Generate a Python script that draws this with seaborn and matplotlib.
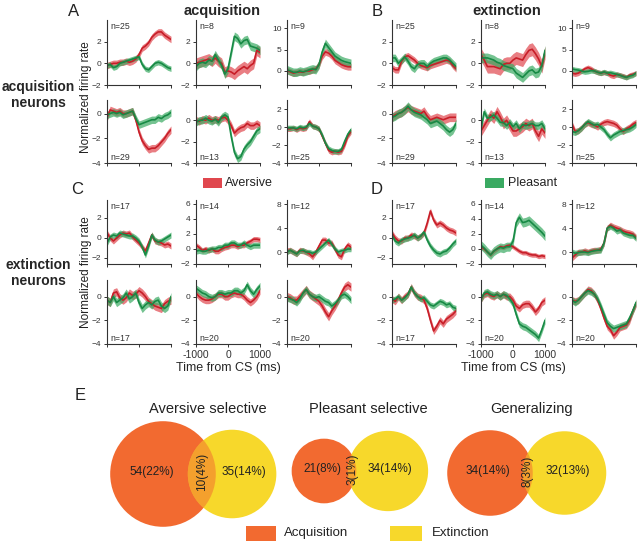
import numpy as np
import matplotlib
matplotlib.use("Agg")
import matplotlib.pyplot as plt
import seaborn as sns
from matplotlib.patches import Circle, Rectangle

# ---- data (normalized firing rate) ----
time_ms = [-1000, -900, -800, -700, -600, -500, -400, -300, -200, -100, 0,
           100, 200, 300, 400, 500, 600, 700, 800, 900, 1000]

# A: acquisition neurons during acquisition (panels 1-3 top row, 4-6 bottom row)
A1_av = [-0.2, -0.1, 0.0, 0.0, 0.1, 0.1, 0.2, 0.1, 0.2, 0.4, 0.8, 1.4, 1.6, 1.9, 2.4, 2.7, 2.9, 2.9, 2.6, 2.4, 2.2]
A1_pl = [-0.2, -0.1, -0.4, -0.3, 0.0, 0.1, 0.2, 0.3, 0.4, 0.5, 0.6, -0.1, -0.5, -0.6, -0.3, 0.0, 0.1, 0.0, -0.2, -0.4, -0.5]
A2_av = [0.0, 0.1, 0.2, 0.3, 0.4, 0.2, 0.5, 0.2, 0.0, -0.8, -0.7, -0.8, -1.0, -0.7, -0.5, -0.3, -0.5, -0.2, 0.0, 1.2, 1.0]
A2_pl = [-0.3, 0.0, 0.1, 0.0, 0.3, 0.2, 0.8, 0.3, -0.2, -1.0, -0.5, 1.0, 2.5, 2.3, 1.8, 2.1, 2.2, 1.6, 1.5, 1.4, 1.2]
A3_av = [0.2, -0.2, -0.5, -0.3, -0.2, -0.3, 0.0, 0.0, 0.3, 0.5, 1.5, 3.5, 4.5, 4.2, 3.5, 2.5, 2.0, 1.5, 1.2, 1.0, 1.0]
A3_pl = [0.3, 0.0, -0.3, -0.3, 0.0, -0.2, 0.0, 0.3, 0.5, 0.3, 1.5, 4.5, 6.5, 5.5, 4.5, 3.5, 3.0, 2.5, 2.2, 2.0, 1.8]
A4_av = [-0.3, 0.3, 0.2, 0.1, 0.2, 0.0, 0.0, 0.1, 0.2, -0.5, -1.5, -2.2, -2.6, -2.9, -2.8, -2.8, -2.6, -2.3, -2.0, -1.6, -1.3]
A4_pl = [-0.1, 0.0, 0.1, 0.0, 0.1, -0.1, 0.0, 0.1, 0.2, -0.4, -0.9, -0.8, -0.7, -0.6, -0.5, -0.5, -0.3, -0.4, -0.2, -0.1, 0.1]
A5_av = [0.0, -0.1, 0.1, 0.0, 0.2, 0.0, 0.1, 0.0, 0.2, 0.3, 0.0, -0.5, -1.2, -0.9, -0.7, -0.6, -0.3, -0.5, -0.5, -0.3, -0.5]
A5_pl = [-0.2, 0.0, 0.0, 0.2, 0.0, -0.1, 0.1, -0.2, 0.3, 0.5, 0.3, -1.5, -3.0, -3.6, -3.4, -2.7, -2.3, -2.0, -1.5, -1.0, -0.8]
A6_av = [-0.2, -0.2, -0.1, -0.3, -0.1, -0.2, -0.1, 0.6, 0.1, 0.0, -0.2, -1.0, -1.8, -2.6, -2.8, -2.7, -2.8, -2.7, -2.0, -1.0, -0.5]
A6_pl = [-0.1, -0.1, -0.1, -0.2, 0.0, -0.1, 0.0, 0.4, 0.1, 0.0, -0.2, -0.9, -1.8, -2.4, -2.6, -2.7, -2.7, -2.5, -1.6, -0.8, -0.3]

# B: acquisition neurons during extinction
B1_av = [-0.4, -0.6, -0.6, 0.2, 0.6, 0.7, 0.5, 0.3, 0.0, -0.2, -0.3, -0.4, -0.2, -0.1, 0.0, 0.1, 0.2, 0.3, 0.2, -0.2, -0.5]
B1_pl = [0.5, 0.5, 0.0, 0.3, 0.6, 0.2, -0.3, -0.5, -0.1, 0.0, 0.0, -0.3, 0.0, 0.2, 0.3, 0.4, 0.5, 0.5, 0.3, 0.0, -0.3]
B2_av = [0.8, 0.3, -0.3, -0.3, -0.3, -0.4, -0.5, -0.1, 0.0, 0.0, 0.3, 0.5, 0.4, 0.3, 0.8, 1.2, 1.3, 0.9, 0.4, -0.3, 1.0]
B2_pl = [0.5, 0.5, 0.5, 0.4, 0.3, 0.1, 0.0, -0.2, -0.3, -0.4, -0.5, -0.9, -1.1, -1.3, -1.0, -0.7, -0.6, -0.9, -0.8, -0.2, 1.2]
B3_av = [-0.5, -0.7, -0.5, 0.0, 0.5, 0.8, 0.5, 0.0, -0.3, -0.5, -0.3, -0.5, -1.0, -1.2, -0.8, -1.0, -1.2, -1.5, -1.0, -0.8, -0.5]
B3_pl = [0.5, 0.3, 0.2, 0.0, -0.2, -0.1, 0.1, 0.0, -0.3, -0.5, -0.2, -0.5, -0.4, -0.6, -0.8, -1.0, -1.3, -1.5, -1.2, -1.0, -0.5]
B4_av = [-0.3, -0.1, 0.0, 0.1, 0.3, 0.5, 0.3, 0.2, 0.1, 0.0, 0.2, -0.2, -0.5, -0.4, -0.3, -0.4, -0.5, -0.4, -0.3, -0.3, -0.3]
B4_pl = [-0.3, -0.2, 0.0, 0.1, 0.3, 0.6, 0.3, 0.1, 0.0, -0.1, -0.3, -0.5, -0.8, -0.7, -0.6, -0.8, -1.0, -1.3, -1.5, -1.3, -0.8]
B5_av = [-1.0, -0.5, 0.0, 0.5, 0.2, 0.8, 0.3, -0.3, 0.0, -0.5, -1.0, -1.0, -0.8, -0.6, -0.3, -0.5, -0.3, -1.0, -1.5, -0.8, -1.2]
B5_pl = [-0.8, 0.8, 0.2, 0.3, 0.5, 0.2, -0.2, -0.2, -0.5, -0.2, -0.6, -0.3, -0.8, -0.4, -0.5, -0.4, -0.3, -0.5, -0.5, -0.3, -0.8]
B6_av = [0.3, -0.5, -0.4, -0.1, 0.3, 0.5, 0.3, 0.2, 0.0, 0.3, 0.5, 0.6, 0.5, 0.4, 0.2, -0.2, -0.5, -0.2, 0.0, 0.3, 0.5]
B6_pl = [-0.5, -0.6, -0.4, -0.1, 0.3, 0.6, 0.4, 0.2, 0.3, 0.0, -0.3, -0.8, -1.2, -0.9, -0.7, -0.5, -0.4, -0.3, -0.2, 0.0, 0.3]

# C: extinction neurons during acquisition
C1_av = [0.5, 0.0, -0.3, 0.0, 0.3, 0.5, 0.4, 0.5, 0.1, -0.2, -0.5, -0.9, -1.3, -0.5, 0.3, -0.3, -0.4, -0.5, -0.7, -0.6, -0.8]
C1_pl = [-0.5, 0.1, 0.3, 0.2, 0.5, 0.4, 0.3, 0.2, 0.2, 0.0, -0.3, -0.9, -1.7, -0.8, 0.3, -0.2, -0.4, -0.3, -0.1, 0.1, 0.3]
C2_av = [0.5, 0.2, -0.2, 0.0, -0.2, 0.0, -0.3, -0.3, 0.0, 0.2, 0.3, 0.5, 0.5, 0.3, 0.5, 0.5, 0.8, 1.0, 1.3, 1.3, 1.2]
C2_pl = [-0.3, -0.2, -0.3, -0.3, -0.1, 0.0, 0.0, 0.2, 0.2, 0.5, 0.5, 0.8, 0.8, 0.5, 0.5, 0.8, 0.5, 0.3, 0.5, 0.5, 0.5]
C3_av = [0.2, 0.3, 0.0, -0.3, 0.3, 0.2, 0.0, -0.3, -0.8, 0.0, 1.0, 2.0, 2.0, 1.5, 1.5, 0.5, -0.5, -0.8, 0.5, 1.2, 0.8]
C3_pl = [0.0, 0.3, 0.0, -0.3, 0.2, 0.3, 0.0, 0.0, -0.2, 0.0, 0.5, 1.0, 1.5, 2.0, 1.3, 0.5, 0.0, 0.2, 0.3, 0.5, 0.5]
C4_av = [-0.3, -0.5, 0.3, 0.4, -0.1, -0.3, -0.1, 0.3, 0.1, 0.2, 0.5, 0.3, 0.0, -0.4, -0.6, -0.8, -0.9, -1.0, -0.6, -0.4, -0.3]
C4_pl = [-0.3, -0.5, 0.0, -0.5, -0.3, -0.1, 0.3, -0.2, 0.0, 0.3, -0.5, -1.0, -0.7, -0.5, -0.7, -0.4, -0.3, -0.8, -1.0, -0.8, 0.0]
C5_av = [0.3, 0.0, -0.2, -0.3, -0.3, -0.2, 0.0, 0.2, 0.2, 0.0, 0.0, 0.2, 0.3, 0.2, 0.2, 0.0, -0.3, -0.5, -0.3, 0.0, 0.5]
C5_pl = [0.7, 0.5, 0.3, 0.2, 0.0, -0.1, 0.0, 0.3, 0.3, 0.2, 0.3, 0.3, 0.5, 0.5, 0.3, 0.5, 1.0, 0.5, 0.2, 0.6, 0.9]
C6_av = [0.0, -0.1, -0.3, -0.3, 0.0, 0.3, 0.6, 0.2, 0.0, -0.2, -0.4, -0.8, -1.3, -1.7, -1.2, -0.8, -0.3, 0.3, 0.8, 1.0, 0.8]
C6_pl = [-0.1, -0.2, -0.3, -0.5, -0.2, 0.3, 0.6, 0.2, 0.0, -0.1, 0.0, -0.2, -0.4, -0.5, -0.8, -0.6, -0.3, 0.1, 0.2, 0.0, -0.3]

# D: extinction neurons during extinction
D1_av = [0.5, 0.0, -0.3, -0.3, 0.0, 0.0, 0.3, 0.2, 0.0, 0.2, 0.5, 1.5, 2.7, 1.8, 1.3, 1.5, 1.3, 1.0, 0.8, 0.7, 0.5]
D1_pl = [0.3, -0.3, -0.5, -0.2, -0.1, 0.0, 0.1, 0.3, 0.0, 0.2, 0.6, -0.2, -0.8, -1.2, -1.5, -1.6, -1.4, -1.3, -1.0, -0.6, -0.3]
D2_av = [0.3, 0.0, -0.4, -0.8, -0.3, 0.0, 0.3, 0.2, 0.4, 0.5, 0.3, 0.0, -0.3, -0.5, -0.5, -0.7, -0.8, -0.8, -1.0, -0.9, -1.0]
D2_pl = [0.5, 0.1, -0.4, -0.8, -0.3, 0.0, 0.2, 0.1, 0.3, 0.3, 1.0, 3.5, 4.2, 3.5, 3.6, 3.8, 3.4, 3.0, 2.6, 2.2, 1.7]
D3_av = [-1.0, -0.5, 0.0, 0.0, 0.2, 0.0, 0.2, 0.3, 0.3, 0.5, 1.5, 4.0, 4.5, 4.2, 4.0, 3.8, 3.5, 3.3, 3.2, 3.0, 2.5]
D3_pl = [0.0, -0.2, -0.1, 0.0, 0.0, -0.1, 0.1, 0.2, 0.3, 0.3, 1.5, 4.0, 4.3, 4.0, 3.5, 3.7, 3.2, 3.0, 2.8, 2.8, 2.3]
D4_av = [-0.2, -0.4, 0.0, -0.3, 0.0, 0.2, 0.8, 0.3, 0.0, -0.1, -0.3, -1.0, -2.0, -2.9, -2.5, -2.0, -2.3, -1.9, -1.7, -1.5, -1.2]
D4_pl = [-0.3, -0.2, 0.0, -0.3, -0.1, 0.2, 0.8, 0.3, 0.0, -0.2, -0.1, -0.4, -0.7, -0.8, -0.6, -0.4, -0.5, -0.7, -0.6, -0.9, -1.0]
D5_av = [-0.2, 0.2, 0.3, 0.1, 0.0, 0.2, 0.0, 0.2, 0.0, 0.0, -0.3, -0.8, -1.0, -0.7, -0.6, -0.6, -0.9, -1.3, -1.0, -0.5, -0.3]
D5_pl = [-0.2, 0.3, 0.4, 0.2, 0.1, 0.2, 0.0, 0.2, 0.1, -0.2, -0.6, -1.5, -2.3, -2.5, -2.6, -2.8, -3.0, -3.2, -3.5, -2.8, -2.0]
D6_av = [-0.3, -0.4, -0.3, 0.0, 0.3, 0.6, 0.5, 0.2, -0.3, -1.0, -1.8, -2.5, -2.8, -3.3, -3.0, -2.6, -2.5, -2.4, -2.0, -1.2, -0.6]
D6_pl = [-0.3, -0.5, -0.3, 0.0, 0.3, 0.5, 0.4, 0.2, -0.2, -0.8, -1.5, -2.2, -2.5, -2.7, -2.6, -2.5, -2.4, -2.3, -1.8, -1.2, -0.5]

# band half-widths (s.e.m.) per panel
sem_A_av = [0.3, 0.5, 0.8, 0.3, 0.35, 0.3]
sem_A_pl = [0.25, 0.4, 1.0, 0.3, 0.35, 0.3]
sem_B_av = [0.3, 0.6, 0.6, 0.35, 0.5, 0.35]
sem_B_pl = [0.35, 0.45, 0.6, 0.35, 0.35, 0.35]
sem_C_av = [0.3, 0.35, 0.5, 0.35, 0.3, 0.35]
sem_C_pl = [0.3, 0.4, 0.45, 0.35, 0.3, 0.3]
sem_D_av = [0.3, 0.3, 0.5, 0.3, 0.3, 0.3]
sem_D_pl = [0.3, 0.6, 0.5, 0.25, 0.3, 0.3]

n_AB = [25, 8, 9, 29, 13, 25]
n_CD = [17, 14, 12, 17, 20, 20]

# Venn counts (E)
venn_titles = ["Aversive selective", "Pleasant selective", "Generalizing"]
acq_only = [54, 21, 34]
shared = [10, 3, 8]
ext_only = [35, 34, 32]
pct_acq = [22, 8, 14]
pct_shared = [4, 1, 3]
pct_ext = [14, 14, 13]

# ---- style ----
RED_LINE, RED_FILL = "#c81e28", "#e0474e"
GRN_LINE, GRN_FILL = "#178a45", "#3aaa62"
ORANGE, YELLOW = "#f26a30", "#f7d82b"
INK = "#333333"

sns.set_style("ticks")
plt.rcParams["font.family"] = ["Liberation Sans", "DejaVu Sans"]

fig = plt.figure(figsize=(6.4, 5.41), dpi=100)


def px_axes(left, top, right, bottom):
    return fig.add_axes([left / 640, 1 - bottom / 541,
                         (right - left) / 640, (bottom - top) / 541])


def draw_panel(ax, av, pl, s_av, s_pl, ylim, yticks, n, n_top):
    for vals, s, lc, fc in [(av, s_av, RED_LINE, RED_FILL), (pl, s_pl, GRN_LINE, GRN_FILL)]:
        v = np.array(vals)
        ax.fill_between(time_ms, v - s, v + s, color=fc, alpha=0.7, lw=0)
        sns.lineplot(x=time_ms, y=vals, ax=ax, color=lc, lw=1.2, errorbar=None)
    ax.set_xlim(-1000, 1000)
    ax.set_ylim(*ylim)
    ax.set_xticks([-1000, 0, 1000])
    ax.set_xticklabels([])
    ax.set_yticks(yticks)
    ax.set_xlabel("")
    ax.set_ylabel("")
    sns.despine(ax=ax)
    for sp in ("left", "bottom"):
        ax.spines[sp].set_linewidth(0.8)
        ax.spines[sp].set_color(INK)
    ax.tick_params(length=2.5, width=0.7, labelsize=6, pad=1.5, colors=INK)
    ax.patch.set_alpha(0)
    if n_top:
        ax.text(0.05, 0.97, f"n={n}", transform=ax.transAxes, va="top", ha="left",
                fontsize=6.3, color=INK)
    else:
        ax.text(0.05, 0.02, f"n={n}", transform=ax.transAxes, va="bottom", ha="left",
                fontsize=6.3, color=INK)


lims_AB = [(-2, 4), (-2, 4), (-3.3, 12), (-4, 1.1), (-4, 1.9), (-4, 3)]
ticks_AB = [[-2, 0, 2], [-2, 0, 2], [0, 5, 10], [-4, -2, 0], [-4, -2, 0], [-4, -2, 0, 2]]
lims_CD = [(-2.6, 3.8), (-2, 6.5), (-2, 8.7), (-4, 1.4), (-4, 1.4), (-4, 1.4)]
ticks_CD = [[-2, 0, 2], [-2, 0, 2, 4, 6], [0, 4, 8], [-4, -2, 0], [-4, -2, 0], [-4, -2, 0]]

blocks = [
    ([A1_av, A2_av, A3_av, A4_av, A5_av, A6_av], [A1_pl, A2_pl, A3_pl, A4_pl, A5_pl, A6_pl],
     sem_A_av, sem_A_pl, n_AB, lims_AB, ticks_AB, [107, 196, 287], [(20, 85), (100, 163)]),
    ([B1_av, B2_av, B3_av, B4_av, B5_av, B6_av], [B1_pl, B2_pl, B3_pl, B4_pl, B5_pl, B6_pl],
     sem_B_av, sem_B_pl, n_AB, lims_AB, ticks_AB, [392, 481, 572], [(20, 85), (100, 163)]),
    ([C1_av, C2_av, C3_av, C4_av, C5_av, C6_av], [C1_pl, C2_pl, C3_pl, C4_pl, C5_pl, C6_pl],
     sem_C_av, sem_C_pl, n_CD, lims_CD, ticks_CD, [107, 196, 287], [(200, 264), (280, 344)]),
    ([D1_av, D2_av, D3_av, D4_av, D5_av, D6_av], [D1_pl, D2_pl, D3_pl, D4_pl, D5_pl, D6_pl],
     sem_D_av, sem_D_pl, n_CD, lims_CD, ticks_CD, [392, 481, 572], [(200, 264), (280, 344)]),
]

for bi, (avs, pls, s_av, s_pl, ns, lims, ticks, lefts, rows) in enumerate(blocks):
    for k in range(6):
        r, c = divmod(k, 3)
        top, bot = rows[r]
        ax = px_axes(lefts[c], top, lefts[c] + 64, bot)
        draw_panel(ax, avs[k], pls[k], s_av[k], s_pl[k], lims[k], ticks[k], ns[k], r == 0)
        if bi >= 2 and k == 4:
            ax.set_xticklabels(["-1000", "0", "1000"], fontsize=7.5)
            ax.set_xlabel("Time from CS (ms)", fontsize=9, labelpad=2)

# ---- overlay in pixel coordinates for labels, legends and Venn diagrams ----
ov = fig.add_axes([0, 0, 1, 1])
ov.set_xlim(0, 640)
ov.set_ylim(541, 0)
ov.axis("off")
ov.patch.set_alpha(0)

for x, y, s in [(74, 11, "A"), (377, 11, "B"), (77, 190, "C"), (377, 190, "D"), (80, 395, "E")]:
    ov.text(x, y, s, fontsize=12, ha="center", va="center", color="#222222")
ov.text(222, 11, "acquisition", fontsize=10.5, fontweight="bold", ha="center", va="center")
ov.text(507, 11, "extinction", fontsize=10.5, fontweight="bold", ha="center", va="center")
ov.text(38, 95, "acquisition\nneurons", fontsize=10, fontweight="bold", ha="center",
        va="center", linespacing=1.15)
ov.text(38, 273, "extinction\nneurons", fontsize=10, fontweight="bold", ha="center",
        va="center", linespacing=1.15)
for y in (97, 272):
    ov.text(86, y, "Normalized firing rate", rotation=90, fontsize=8.5, ha="center",
            va="center", color="#222222")

ov.add_patch(Rectangle((203, 178), 19, 10, color=RED_FILL, lw=0))
ov.text(225, 183, "Aversive", fontsize=9, va="center", ha="left", color="#222222")
ov.add_patch(Rectangle((485, 178), 19, 10, color=GRN_FILL, lw=0))
ov.text(508, 183, "Pleasant", fontsize=9, va="center", ha="left", color="#222222")

# Venn diagrams: circle area proportional to neuron count
narrow = ["Liberation Sans Narrow", "Liberation Sans", "DejaVu Sans"]
orange_cx = [163, 324, 490]
venn_cy = [474, 471, 473]
overlap_px = [28, 8.5, 10]
title_x = [208, 368, 532]
k_r = 6.6
for i in range(3):
    r_acq = k_r * np.sqrt(acq_only[i] + shared[i])
    r_ext = k_r * np.sqrt(ext_only[i] + shared[i])
    cx1 = orange_cx[i]
    cx2 = cx1 + r_acq + r_ext - overlap_px[i]
    cy = venn_cy[i]
    ov.add_patch(Circle((cx1, cy), r_acq, color=ORANGE, lw=0))
    yel = Circle((cx2, cy), r_ext, color=YELLOW, lw=0)
    ov.add_patch(yel)
    mix = Circle((cx1, cy), r_acq, color=ORANGE, alpha=0.5, lw=0)
    ov.add_patch(mix)
    mix.set_clip_path(yel)
    left1, right1 = cx1 - r_acq, cx1 + r_acq
    left2, right2 = cx2 - r_ext, cx2 + r_ext
    ov.text((left1 + left2) / 2 + 3, cy - 2, f"{acq_only[i]}({pct_acq[i]}%)", family=narrow,
            fontsize=8.5, ha="center", va="center", color="#222222")
    ov.text((right1 + right2) / 2 - 2, cy - 2, f"{ext_only[i]}({pct_ext[i]}%)", family=narrow,
            fontsize=8.5, ha="center", va="center", color="#222222")
    ov.text((left2 + right1) / 2, cy - 2, f"{shared[i]}({pct_shared[i]}%)", family=narrow,
            fontsize=8.5, rotation=90, ha="center", va="center", color="#222222")
    ov.text(title_x[i], 409, venn_titles[i], fontsize=10.5, ha="center", va="center",
            color="#222222")

ov.add_patch(Rectangle((246, 526), 30, 15, color=ORANGE, lw=0))
ov.text(284, 533, "Acquisition", fontsize=9.5, va="center", ha="left", color="#222222")
ov.add_patch(Rectangle((390, 526), 32, 15, color=YELLOW, lw=0))
ov.text(432, 533, "Extinction", fontsize=9.5, va="center", ha="left", color="#222222")

fig.savefig("out.png", dpi=100)
